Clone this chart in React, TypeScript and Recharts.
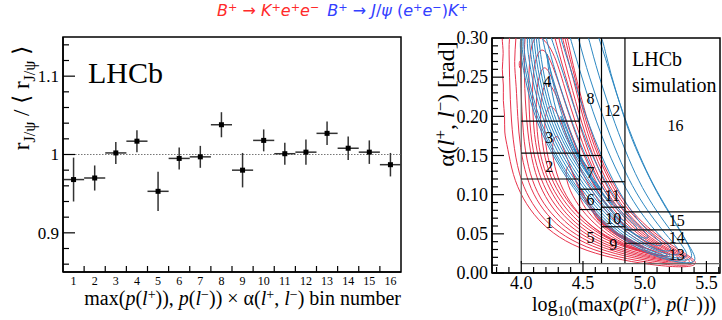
import React from "react";
import {
  ComposedChart,
  Scatter,
  ErrorBar,
  Line,
  XAxis,
  YAxis,
  ReferenceLine,
  ReferenceArea,
} from "recharts";

// ---------- left panel: ratio per bin ----------
const binNumbers = [1, 2, 3, 4, 5, 6, 7, 8, 9, 10, 11, 12, 13, 14, 15, 16];
const binEdges = [1.5, 2.5, 3.5, 4.5, 5.5, 6.5, 7.5, 8.5, 9.5, 10.5, 11.5, 12.5, 13.5, 14.5, 15.5];
const ratioValues = [0.968, 0.97, 1.002, 1.017, 0.953, 0.995, 0.997, 1.038, 0.98, 1.018, 1.001, 1.003, 1.027, 1.008, 1.003, 0.987];
const ratioErrors = [0.028, 0.016, 0.014, 0.014, 0.025, 0.014, 0.014, 0.016, 0.022, 0.014, 0.014, 0.016, 0.015, 0.015, 0.015, 0.015];
const leftYMajor = [0.9, 1, 1.1];
const leftYMinor = [0.86, 0.88, 0.92, 0.94, 0.96, 0.98, 1.02, 1.04, 1.06, 1.08, 1.12, 1.14];

// ---------- right panel: contours and binning ----------
const rightXMajor = [4.0, 4.5, 5.0, 5.5];
const rightXMinor = [3.8, 3.9, 4.1, 4.2, 4.3, 4.4, 4.6, 4.7, 4.8, 4.9, 5.1, 5.2, 5.3, 5.4, 5.6];
const rightYMajor = [0, 0.05, 0.1, 0.15, 0.2, 0.25, 0.3];
const rightYMinor = [0.01, 0.02, 0.03, 0.04, 0.06, 0.07, 0.08, 0.09, 0.11, 0.12, 0.13, 0.14, 0.16, 0.17, 0.18, 0.19, 0.21, 0.22, 0.23, 0.24, 0.26, 0.27, 0.28, 0.29];

const columnEdges = [4.0, 4.472, 4.65, 4.84, 5.61];
const column1Edges = [0.12, 0.153, 0.194];
const column2Edges = [0.081, 0.107, 0.15];
const column3Edges = [0.059, 0.084, 0.1165];
const column4Edges = [0.038, 0.055, 0.078];
const binFloor = 0.012;
const binCeil = 0.3;

const binLabels = ["1", "2", "3", "4", "5", "6", "7", "8", "9", "10", "11", "12", "13", "14", "15", "16"];
const binLabelX = [4.227, 4.227, 4.227, 4.21, 4.56, 4.56, 4.56, 4.56, 4.745, 4.745, 4.737, 4.737, 5.26, 5.26, 5.26, 5.25];
const binLabelY = [0.064, 0.136, 0.173, 0.245, 0.046, 0.094, 0.128, 0.223, 0.036, 0.07, 0.099, 0.207, 0.024, 0.045, 0.067, 0.188];

// B+ -> K+ e+ e- (red), outermost first
const red0 = [[3.85,0.33],[3.84,0.3],[3.86,0.28],[3.84,0.26],[3.86,0.24],[3.85,0.22],[3.87,0.2],[3.86,0.18],[3.89,0.16],[3.93,0.125],[4.01,0.095],[4.13,0.068],[4.3,0.045],[4.52,0.028],[4.82,0.016],[5.12,0.009],[5.34,0.007],[5.43,0.011],[5.39,0.019],[5.26,0.031],[5.1,0.048],[4.94,0.07],[4.8,0.098],[4.67,0.135],[4.55,0.185],[4.45,0.245],[4.37,0.3],[4.34,0.33]];
const red0a = [[3.9,0.33],[3.9,0.28],[3.91,0.22],[3.93,0.17],[3.98,0.125],[4.06,0.095],[4.18,0.068],[4.35,0.046],[4.58,0.029],[4.86,0.0175],[5.14,0.011],[5.34,0.009],[5.41,0.0125],[5.36,0.02],[5.22,0.032],[5.06,0.05],[4.91,0.072],[4.77,0.1],[4.65,0.138],[4.53,0.187],[4.44,0.247],[4.35,0.3],[4.32,0.33]];
const red1 = [[3.96,0.33],[3.96,0.3],[3.94,0.27],[3.96,0.24],[3.97,0.2],[3.99,0.16],[4.04,0.122],[4.12,0.093],[4.24,0.068],[4.41,0.046],[4.63,0.03],[4.9,0.019],[5.15,0.013],[5.33,0.011],[5.38,0.014],[5.32,0.022],[5.18,0.034],[5.02,0.051],[4.87,0.074],[4.74,0.103],[4.62,0.14],[4.51,0.19],[4.42,0.25],[4.33,0.3],[4.3,0.33]];
const red1a = [[4.0,0.33],[3.99,0.28],[4.0,0.22],[4.02,0.165],[4.07,0.125],[4.15,0.095],[4.27,0.07],[4.44,0.048],[4.66,0.0315],[4.92,0.0205],[5.16,0.0145],[5.32,0.013],[5.35,0.0165],[5.27,0.0245],[5.13,0.036],[4.98,0.053],[4.84,0.076],[4.71,0.104],[4.6,0.141],[4.49,0.19],[4.39,0.248],[4.3,0.3],[4.27,0.33]];
const red2 = [[4.04,0.33],[4.02,0.28],[4.03,0.22],[4.06,0.165],[4.11,0.127],[4.19,0.097],[4.31,0.071],[4.47,0.05],[4.68,0.033],[4.94,0.022],[5.16,0.016],[5.3,0.015],[5.31,0.019],[5.22,0.027],[5.08,0.039],[4.94,0.056],[4.8,0.079],[4.68,0.106],[4.57,0.142],[4.47,0.19],[4.37,0.245],[4.27,0.3],[4.23,0.33]];
const red2a = [[4.1,0.31],[4.06,0.27],[4.06,0.215],[4.08,0.165],[4.14,0.127],[4.22,0.098],[4.34,0.073],[4.5,0.051],[4.7,0.0345],[4.95,0.0235],[5.15,0.0175],[5.27,0.0165],[5.28,0.0205],[5.19,0.028],[5.05,0.04],[4.91,0.057],[4.78,0.08],[4.66,0.107],[4.55,0.143],[4.44,0.19],[4.34,0.243],[4.25,0.29]];
const red3 = [[4.15,0.29],[4.09,0.26],[4.09,0.21],[4.11,0.165],[4.17,0.128],[4.25,0.1],[4.36,0.075],[4.52,0.053],[4.72,0.036],[4.96,0.025],[5.14,0.019],[5.24,0.018],[5.24,0.022],[5.15,0.029],[5.02,0.041],[4.88,0.058],[4.75,0.08],[4.63,0.108],[4.52,0.145],[4.41,0.19],[4.31,0.24],[4.22,0.28]];
const red3a = [[4.18,0.27],[4.12,0.24],[4.12,0.19],[4.15,0.15],[4.22,0.117],[4.32,0.09],[4.45,0.066],[4.63,0.046],[4.85,0.032],[5.05,0.0235],[5.18,0.02],[5.22,0.0215],[5.16,0.0275],[5.04,0.037],[4.9,0.051],[4.76,0.072],[4.64,0.098],[4.53,0.13],[4.42,0.17],[4.32,0.215],[4.25,0.25]];
const red4 = [[4.2,0.25],[4.15,0.22],[4.16,0.175],[4.2,0.138],[4.28,0.107],[4.4,0.08],[4.55,0.058],[4.74,0.04],[4.96,0.028],[5.12,0.022],[5.19,0.022],[5.17,0.026],[5.07,0.033],[4.95,0.045],[4.82,0.062],[4.7,0.084],[4.58,0.113],[4.47,0.148],[4.37,0.19],[4.28,0.23]];
const red4a = [[4.23,0.22],[4.18,0.195],[4.2,0.155],[4.26,0.122],[4.36,0.094],[4.5,0.068],[4.68,0.047],[4.88,0.033],[5.06,0.025],[5.17,0.021],[5.2,0.023],[5.12,0.028],[5.0,0.037],[4.86,0.051],[4.73,0.07],[4.61,0.095],[4.5,0.125],[4.4,0.16],[4.31,0.2]];
const red5 = [[4.28,0.18],[4.24,0.16],[4.28,0.127],[4.36,0.098],[4.48,0.072],[4.64,0.05],[4.82,0.035],[5.0,0.026],[5.12,0.021],[5.16,0.023],[5.1,0.027],[4.98,0.033],[4.85,0.043],[4.72,0.057],[4.6,0.076],[4.49,0.102],[4.4,0.133],[4.33,0.165]];
const red6 = [[4.38,0.14],[4.35,0.125],[4.41,0.098],[4.52,0.074],[4.66,0.053],[4.82,0.038],[4.98,0.028],[5.08,0.024],[5.11,0.026],[5.04,0.03],[4.92,0.036],[4.79,0.046],[4.67,0.06],[4.56,0.08],[4.47,0.105],[4.41,0.13]];
const red7 = [[4.48,0.11],[4.46,0.098],[4.54,0.077],[4.66,0.058],[4.8,0.042],[4.95,0.031],[5.04,0.027],[5.06,0.029],[4.99,0.033],[4.88,0.04],[4.76,0.05],[4.64,0.066],[4.54,0.088],[4.5,0.102]];
const red8 = [[4.58,0.085],[4.58,0.074],[4.67,0.059],[4.8,0.045],[4.93,0.035],[5.0,0.031],[5.01,0.033],[4.95,0.037],[4.84,0.044],[4.72,0.055],[4.62,0.071],[4.59,0.08]];
const red9 = [[4.66,0.066],[4.72,0.056],[4.83,0.045],[4.93,0.037],[4.96,0.036],[4.93,0.039],[4.83,0.046],[4.72,0.056],[4.67,0.063]];
const red10 = [[4.74,0.052],[4.82,0.045],[4.9,0.039],[4.91,0.041],[4.83,0.047],[4.76,0.052]];
const redBlob = [[3.99,0.272],[4.005,0.267],[3.998,0.26],[3.985,0.262],[3.982,0.268]];

// B+ -> J/psi (e+ e-) K+ (blue), outermost first
const blue0 = [[3.96,0.33],[4.0,0.27],[4.07,0.22],[4.15,0.182],[4.32,0.131],[4.52,0.087],[4.76,0.048],[5.04,0.023],[5.25,0.014],[5.38,0.012],[5.42,0.017],[5.38,0.03],[5.3,0.05],[5.2,0.076],[5.1,0.102],[4.98,0.14],[4.87,0.18],[4.77,0.23],[4.68,0.28],[4.62,0.33]];
const blue0a = [[3.975,0.33],[4.015,0.27],[4.085,0.22],[4.165,0.182],[4.335,0.131],[4.535,0.0875],[4.775,0.049],[5.05,0.0245],[5.255,0.016],[5.37,0.016],[5.39,0.0235],[5.34,0.04],[5.26,0.062],[5.15,0.09],[5.04,0.121],[4.93,0.16],[4.82,0.205],[4.72,0.255],[4.62,0.305],[4.56,0.33]];
const blue1 = [[3.99,0.33],[4.03,0.27],[4.1,0.22],[4.18,0.182],[4.35,0.131],[4.55,0.088],[4.79,0.05],[5.06,0.026],[5.26,0.018],[5.36,0.02],[5.32,0.032],[5.22,0.052],[5.1,0.078],[4.98,0.108],[4.87,0.145],[4.76,0.19],[4.65,0.24],[4.56,0.29],[4.5,0.33]];
const blue2 = [[4.02,0.33],[4.06,0.27],[4.12,0.225],[4.21,0.18],[4.37,0.132],[4.57,0.089],[4.8,0.052],[5.07,0.029],[5.22,0.022],[5.3,0.024],[5.25,0.035],[5.14,0.055],[5.02,0.08],[4.9,0.11],[4.78,0.15],[4.66,0.2],[4.55,0.25],[4.46,0.3],[4.42,0.33]];
const blue3 = [[4.04,0.33],[4.08,0.27],[4.14,0.225],[4.23,0.18],[4.39,0.133],[4.59,0.09],[4.82,0.054],[5.06,0.032],[5.17,0.027],[5.23,0.029],[5.17,0.04],[5.06,0.058],[4.94,0.083],[4.82,0.115],[4.7,0.155],[4.58,0.205],[4.47,0.26],[4.38,0.31],[4.34,0.33]];
const blue4 = [[4.06,0.33],[4.1,0.27],[4.16,0.225],[4.25,0.18],[4.41,0.134],[4.6,0.092],[4.83,0.057],[5.04,0.037],[5.12,0.034],[5.15,0.037],[5.08,0.046],[4.97,0.062],[4.86,0.086],[4.74,0.118],[4.62,0.16],[4.5,0.21],[4.39,0.265],[4.3,0.31],[4.26,0.33]];
const blue5 = [[4.08,0.33],[4.12,0.27],[4.18,0.225],[4.27,0.18],[4.43,0.135],[4.62,0.094],[4.82,0.06],[4.98,0.043],[5.05,0.045],[4.98,0.056],[4.87,0.072],[4.76,0.095],[4.65,0.125],[4.53,0.165],[4.42,0.215],[4.31,0.27],[4.22,0.31],[4.19,0.33]];
const blue6 = [[4.1,0.33],[4.14,0.27],[4.2,0.225],[4.29,0.18],[4.45,0.136],[4.63,0.097],[4.8,0.066],[4.92,0.052],[4.95,0.057],[4.88,0.067],[4.78,0.083],[4.67,0.105],[4.56,0.135],[4.45,0.175],[4.34,0.225],[4.23,0.28],[4.16,0.33]];
const blue7 = [[4.12,0.33],[4.16,0.27],[4.22,0.225],[4.31,0.18],[4.46,0.138],[4.62,0.102],[4.77,0.073],[4.84,0.065],[4.85,0.07],[4.78,0.08],[4.68,0.097],[4.58,0.12],[4.47,0.152],[4.37,0.19],[4.27,0.24],[4.18,0.29],[4.14,0.33]];
const blue8 = [[4.2,0.29],[4.24,0.23],[4.33,0.18],[4.47,0.14],[4.62,0.108],[4.73,0.085],[4.75,0.088],[4.68,0.097],[4.58,0.115],[4.48,0.142],[4.38,0.178],[4.28,0.225],[4.22,0.27]];
const blue9 = [[4.3,0.21],[4.36,0.175],[4.48,0.142],[4.6,0.113],[4.66,0.103],[4.64,0.11],[4.55,0.125],[4.45,0.15],[4.36,0.185]];
const blue10 = [[4.4,0.165],[4.5,0.143],[4.58,0.125],[4.56,0.13],[4.47,0.148]];

const redContours = [red0, red0a, red1, red1a, red2, red2a, red3, red3a, red4, red4a, red5, red6, red7, red8, red9, red10, redBlob];
const blueContours = [blue0, blue0a, blue1, blue2, blue3, blue4, blue5, blue6, blue7, blue8, blue9, blue10];

const RED = "#e8334c";
const BLUE = "#2d88c2";
const SERIF = "'Liberation Serif', 'DejaVu Serif', serif";

const toPoints = (c: number[][]) => c.map(([x, y]) => ({ x, y }));

const ratioData = binNumbers.map((b, i) => ({
  bin: b,
  ratio: ratioValues[i],
  errY: ratioErrors[i],
  errX: 0.5,
}));

const binLabelData = binLabels.map((t, i) => ({ x: binLabelX[i], y: binLabelY[i], label: t }));

function LeftYTick(props: any) {
  const { x, y, payload } = props;
  const major = leftYMajor.includes(payload.value);
  return (
    <g>
      <line x1={x} x2={x + (major ? 12 : 6)} y1={y} y2={y} stroke="#000" strokeWidth={1.2} />
      {major && (
        <text x={x - 4} y={y} dy="0.35em" textAnchor="end" fontFamily={SERIF} fontSize={17} fill="#000">
          {payload.value}
        </text>
      )}
    </g>
  );
}

function LeftXTick(props: any) {
  const { x, y, payload } = props;
  if (Number.isInteger(payload.value)) {
    return (
      <text x={x} y={y + 13} textAnchor="middle" fontFamily={SERIF} fontSize={12} fill="#000">
        {payload.value}
      </text>
    );
  }
  return <line x1={x} x2={x} y1={y} y2={y - 6} stroke="#000" strokeWidth={1.2} />;
}

function RightYTick(props: any) {
  const { x, y, payload } = props;
  const major = rightYMajor.includes(payload.value);
  return (
    <g>
      <line x1={x} x2={x + (major ? 12 : 6)} y1={y} y2={y} stroke="#000" strokeWidth={1.2} />
      {major && (
        <text x={x - 4} y={y} dy="0.35em" textAnchor="end" fontFamily={SERIF} fontSize={18} fill="#000">
          {payload.value.toFixed(2)}
        </text>
      )}
    </g>
  );
}

function RightXTick(props: any) {
  const { x, y, payload } = props;
  const major = rightXMajor.includes(payload.value);
  return (
    <g>
      <line x1={x} x2={x} y1={y} y2={y - (major ? 12 : 6)} stroke="#000" strokeWidth={1.2} />
      {major && (
        <text x={x} y={y + 16} textAnchor="middle" fontFamily={SERIF} fontSize={18} fill="#000">
          {payload.value.toFixed(1)}
        </text>
      )}
    </g>
  );
}

function BinLabel(props: any) {
  const { cx, cy, payload } = props;
  return (
    <text x={cx} y={cy} dy="0.35em" textAnchor="middle" fontFamily={SERIF} fontSize={16} fill="#000">
      {payload.label}
    </text>
  );
}

function binSegments() {
  const segs: { a: { x: number; y: number }; b: { x: number; y: number }; c: string }[] = [];
  columnEdges.slice(0, 4).forEach((x, i) => {
    segs.push({ a: { x, y: binFloor }, b: { x, y: binCeil }, c: i === 0 ? "#666" : "#000" });
  });
  segs.push({ a: { x: columnEdges[0], y: binFloor }, b: { x: columnEdges[4], y: binFloor }, c: "#666" });
  [column1Edges, column2Edges, column3Edges, column4Edges].forEach((edges, i) => {
    edges.forEach((y) => {
      segs.push({ a: { x: columnEdges[i], y }, b: { x: columnEdges[i + 1], y }, c: "#000" });
    });
  });
  return segs;
}

const sup = { fontSize: "0.7em", position: "relative" as const, top: "-0.45em" };
const sub = { fontSize: "0.7em", position: "relative" as const, top: "0.35em" };

export default function App() {
  const leftXTicks = [...binNumbers, ...binEdges].sort((a, b) => a - b);
  const leftYTicks = [...leftYMajor, ...leftYMinor].sort((a, b) => a - b);
  const rightXTicks = [...rightXMajor, ...rightXMinor].sort((a, b) => a - b);
  const rightYTicks = [...rightYMajor, ...rightYMinor].sort((a, b) => a - b);

  return (
    <div style={{ position: "absolute", left: 0, top: 0, width: 722, height: 320, background: "#fff", overflow: "hidden" }}>
      {/* legend line */}
      <div
        style={{
          position: "absolute",
          left: 217,
          top: 1,
          fontFamily: "'DejaVu Sans', sans-serif",
          fontSize: 16,
          whiteSpace: "nowrap",
        }}
      >
        <span style={{ color: "#ff2a2a" }}>
          <i>B</i><span style={sup}>+</span> → <i>K</i><span style={sup}>+</span><i>e</i><span style={sup}>+</span><i>e</i><span style={sup}>−</span>
        </span>
        <span style={{ color: "#3340ff", marginLeft: 8 }}>
          <i>B</i><span style={sup}>+</span> → <i>J</i>/<i>ψ</i> (<i>e</i><span style={sup}>+</span><i>e</i><span style={sup}>−</span>)<i>K</i><span style={sup}>+</span>
        </span>
      </div>

      {/* left panel */}
      <div style={{ position: "absolute", left: 0, top: 0 }}>
        <ComposedChart width={410} height={320} data={ratioData} margin={{ top: 37, right: 9, bottom: 18, left: 23 }}>
          <XAxis
            type="number"
            dataKey="bin"
            domain={[0.5, 16.5]}
            ticks={leftXTicks}
            interval={0}
            tickSize={0}
            tickMargin={0}
            tickLine={false}
            tick={<LeftXTick />}
            axisLine={{ stroke: "#000", strokeWidth: 1.5 }}
            height={30}
          />
          <YAxis
            type="number"
            domain={[0.85, 1.15]}
            allowDataOverflow
            ticks={leftYTicks}
            interval={0}
            tickSize={0}
            tickMargin={0}
            tickLine={false}
            tick={<LeftYTick />}
            axisLine={{ stroke: "#000", strokeWidth: 1.5 }}
            width={40}
          />
          <ReferenceArea x1={0.5} x2={16.5} y1={0.85} y2={1.15} fill="none" stroke="#000" strokeWidth={1.5} />
          <ReferenceLine y={1} stroke="#777" strokeDasharray="1.5 1.5" strokeWidth={1} />
          <Scatter
            dataKey="ratio"
            isAnimationActive={false}
            shape={(p: any) => <rect x={p.cx - 2.5} y={p.cy - 2.5} width={5} height={5} fill="#000" />}
          >
            <ErrorBar dataKey="errY" direction="y" width={0} stroke="#333" strokeWidth={1.5} isAnimationActive={false} />
            <ErrorBar dataKey="errX" direction="x" width={0} stroke="#333" strokeWidth={1.5} isAnimationActive={false} />
          </Scatter>
        </ComposedChart>
      </div>
      <div style={{ position: "absolute", left: 88, top: 56, fontFamily: SERIF, fontSize: 30 }}>LHCb</div>
      <div
        style={{
          position: "absolute",
          left: 21,
          top: 98,
          transform: "translate(-50%, -50%) rotate(-90deg)",
          fontFamily: SERIF,
          fontSize: 23,
          whiteSpace: "nowrap",
        }}
      >
        r<span style={sub}>J/ψ</span> / ⟨ r<span style={sub}>J/ψ</span> ⟩
      </div>
      <div
        style={{
          position: "absolute",
          right: 722 - 401,
          top: 287,
          fontFamily: SERIF,
          fontSize: 20,
          whiteSpace: "nowrap",
        }}
      >
        max(<i>p</i>(<i>l</i><span style={sup}>+</span>)), <i>p</i>(<i>l</i><span style={sup}>−</span>)) × α(<i>l</i>
        <span style={sup}>+</span>, <i>l</i><span style={sup}>−</span>) bin number
      </div>

      {/* right panel */}
      <div style={{ position: "absolute", left: 410, top: 0 }}>
        <ComposedChart width={312} height={320} margin={{ top: 38, right: 2, bottom: 17, left: 32 }}>
          <XAxis
            type="number"
            dataKey="x"
            domain={[3.763, 5.61]}
            allowDataOverflow
            ticks={rightXTicks}
            interval={0}
            tickSize={0}
            tickMargin={0}
            tickLine={false}
            tick={<RightXTick />}
            axisLine={{ stroke: "#000", strokeWidth: 1.5 }}
            height={30}
          />
          <YAxis
            type="number"
            dataKey="y"
            domain={[0, 0.3]}
            allowDataOverflow
            ticks={rightYTicks}
            interval={0}
            tickSize={0}
            tickMargin={0}
            tickLine={false}
            tick={<RightYTick />}
            axisLine={{ stroke: "#000", strokeWidth: 1.5 }}
            width={50}
          />
          <ReferenceArea x1={3.763} x2={5.61} y1={0} y2={0.3} fill="none" stroke="#000" strokeWidth={1.5} />
          {redContours.map((c, i) => (
            <Line
              key={"r" + i}
              data={toPoints(c)}
              dataKey="y"
              type="basisClosed"
              stroke={RED}
              strokeWidth={1}
              dot={false}
              activeDot={false}
              isAnimationActive={false}
            />
          ))}
          {blueContours.map((c, i) => (
            <Line
              key={"b" + i}
              data={toPoints(c)}
              dataKey="y"
              type="basisClosed"
              stroke={BLUE}
              strokeWidth={1}
              dot={false}
              activeDot={false}
              isAnimationActive={false}
            />
          ))}
          {binSegments().map((s, i) => (
            <ReferenceLine key={"s" + i} segment={[s.a, s.b]} stroke={s.c} strokeWidth={1.2} ifOverflow="visible" />
          ))}
          <Scatter data={binLabelData} dataKey="y" isAnimationActive={false} shape={<BinLabel />} />
        </ComposedChart>
      </div>
      <div style={{ position: "absolute", left: 632, top: 46, fontFamily: SERIF, fontSize: 20, lineHeight: "26px" }}>
        LHCb
        <br />
        simulation
      </div>
      <div
        style={{
          position: "absolute",
          left: 446,
          top: 104,
          transform: "translate(-50%, -50%) rotate(-90deg)",
          fontFamily: SERIF,
          fontSize: 24,
          whiteSpace: "nowrap",
        }}
      >
        α(<i>l</i><span style={sup}>+</span>, <i>l</i><span style={sup}>−</span>) [rad]
      </div>
      <div style={{ position: "absolute", left: 532, top: 293, fontFamily: SERIF, fontSize: 20, whiteSpace: "nowrap" }}>
        log<span style={sub}>10</span>(max(<i>p</i>(<i>l</i><span style={sup}>+</span>), <i>p</i>(<i>l</i>
        <span style={sup}>−</span>)))
      </div>
    </div>
  );
}
